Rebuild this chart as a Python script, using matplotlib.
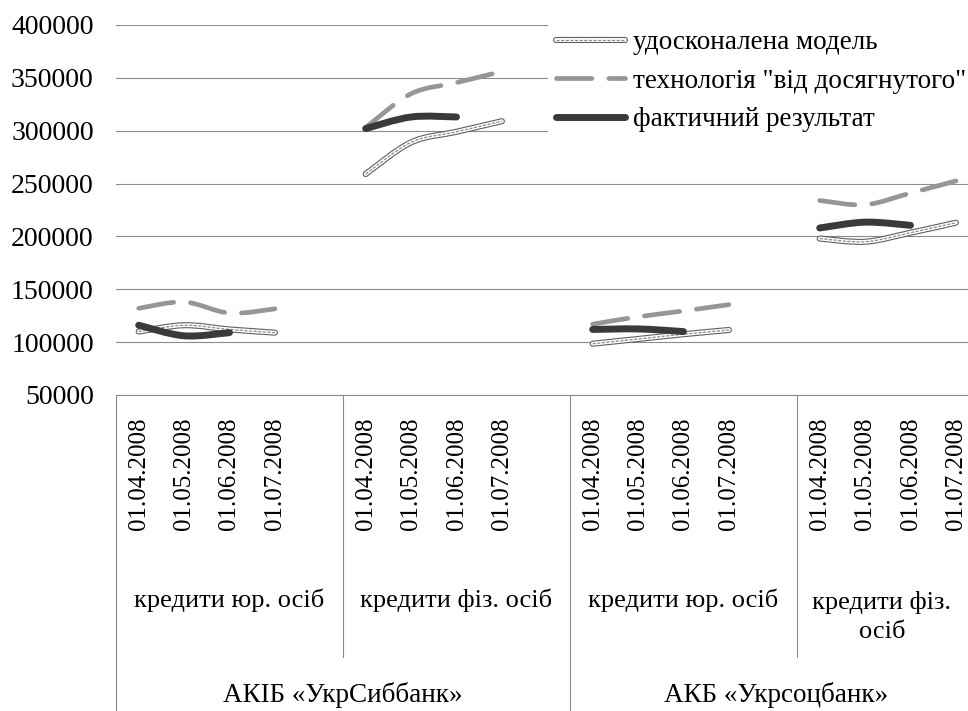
import numpy as np
import matplotlib
matplotlib.use('Agg')
import matplotlib.pyplot as plt
from matplotlib.path import Path
from matplotlib.patches import PathPatch
from matplotlib.lines import Line2D

plt.rcParams['font.family'] = ['Liberation Serif', 'DejaVu Serif']

# ---- data ----
dates = ['01.04.2008', '01.05.2008', '01.06.2008', '01.07.2008']
groups = ['кредити юр. осіб', 'кредити фіз. осіб', 'кредити юр. осіб', 'кредити фіз.\nосіб']
banks = ['АКІБ «УкрСиббанк»', 'АКБ «Укрсоцбанк»']
series_names = ['удосконалена модель', 'технологія "від досягнутого"', 'фактичний результат']

model = [[110000, 116000, 112000, 109000],
         [259000, 289000, 299000, 309000],
         [98500, 103000, 107500, 111500],
         [198000, 195000, 203500, 213000]]
tech = [[132000, 138000, 127500, 131500],
        [303000, 335000, 345500, 356000],
        [117000, 124000, 129500, 135500],
        [234000, 230000, 241000, 252500]]
actual = [[116000, 106000, 109000],
          [302000, 313000, 313000],
          [112000, 112500, 110000],
          [208000, 213500, 210500]]

slots = 5  # 4 dates + one empty category per group (as in the source sheet)


def smooth(xs, ys):
    # Excel-like smoothed line as cubic bezier path
    pts = np.column_stack([xs, ys]).astype(float)
    n = len(pts)
    verts = [pts[0]]
    codes = [Path.MOVETO]
    for i in range(n - 1):
        p0 = pts[i - 1] if i > 0 else pts[i]
        p1, p2 = pts[i], pts[i + 1]
        p3 = pts[i + 2] if i + 2 < n else pts[i + 1]
        verts += [p1 + (p2 - p0) / 6, p2 - (p3 - p1) / 6, p2]
        codes += [Path.CURVE4] * 3
    return Path(verts, codes)


fig = plt.figure(figsize=(9.68, 7.11), dpi=100)
ax = fig.add_axes([116 / 968, 1 - 395 / 711, 908 / 968, 370 / 711])

grey_out = '#606060'
tech_c = '#969696'
act_c = '#3a3a3a'

for g in range(len(groups)):
    x = [slots * g + i for i in range(4)]
    p = smooth(x, model[g])
    ax.add_patch(PathPatch(p, fill=False, lw=4.4, edgecolor=grey_out, capstyle='round', joinstyle='round', zorder=3))
    ax.add_patch(PathPatch(p, fill=False, lw=2.8, edgecolor='white', capstyle='round', joinstyle='round', zorder=3))
    ax.add_patch(PathPatch(p, fill=False, lw=0.9, edgecolor='#8a8a8a', linestyle=(0, (2.5, 1.2)), zorder=3))
    p = smooth(x, tech[g])
    ax.add_patch(PathPatch(p, fill=False, lw=3.4, edgecolor=tech_c, linestyle=(0, (7.5, 3.6)), capstyle='round', zorder=4))
    xa = x[:len(actual[g])]
    p = smooth(xa, actual[g])
    ax.add_patch(PathPatch(p, fill=False, lw=5, edgecolor=act_c, capstyle='round', joinstyle='round', zorder=5))

ax.set_xlim(-0.5, slots * len(groups) - 0.5)
ax.set_ylim(50000, 400000)
ax.set_yticks(np.arange(50000, 400001, 50000))
ax.yaxis.grid(True, color='#8c8c8c', lw=0.8)
ax.set_axisbelow(True)
for s in ['left', 'top', 'right']:
    ax.spines[s].set_visible(False)
ax.spines['bottom'].set_color('#8c8c8c')
ax.spines['bottom'].set_linewidth(0.8)

ticks = [slots * g + i for g in range(len(groups)) for i in range(4)]
ax.set_xticks(ticks)
ax.set_xticklabels(dates * len(groups), rotation=90, fontsize=18)
ax.tick_params(axis='x', length=0, pad=16)
ax.tick_params(axis='y', length=0, pad=16, labelsize=20)

# hierarchical category axis
tr = ax.get_xaxis_transform()
for xb in [slots - 0.5, 3 * slots - 0.5]:
    ax.plot([xb, xb], [0, -0.708], transform=tr, color='#8c8c8c', lw=0.8, clip_on=False)
for xb in [-0.5, 2 * slots - 0.5]:
    ax.plot([xb, xb], [0, -0.9], transform=tr, color='#8c8c8c', lw=0.8, clip_on=False)

grp_x = [2.0, 7.0, 12.0, 16.37]
grp_y = [-0.554, -0.554, -0.554, -0.6]
for g, lab in enumerate(groups):
    ax.text(grp_x[g], grp_y[g], lab, transform=tr, ha='center', va='center', fontsize=19, linespacing=1.45)
bank_x = [4.5, 14.05]
for b, lab in enumerate(banks):
    ax.text(bank_x[b], -0.811, lab, transform=tr, ha='center', va='center', fontsize=19.5)

# legend
h_model = (Line2D([], [], lw=4.4, color=grey_out, solid_capstyle='round'),
           Line2D([], [], lw=2.8, color='white', solid_capstyle='round'),
           Line2D([], [], lw=0.9, color='#8a8a8a', dashes=(2.5, 1.2)))
h_tech = Line2D([], [], lw=3.4, color=tech_c, dashes=(7.5, 3.6), dash_capstyle='round')
h_act = Line2D([], [], lw=5, color=act_c, solid_capstyle='round')
leg = fig.legend([h_model, h_tech, h_act], series_names, loc='upper left',
                 bbox_to_anchor=(548 / 968, 1 - 22 / 711), fontsize=19.5,
                 handlelength=2.55, handletextpad=0.3, labelspacing=0.5,
                 borderpad=0.3, borderaxespad=0, frameon=True, fancybox=False)
leg.get_frame().set_facecolor('white')
leg.get_frame().set_edgecolor('none')
leg.get_frame().set_alpha(1)

fig.savefig('out.png', dpi=100)
